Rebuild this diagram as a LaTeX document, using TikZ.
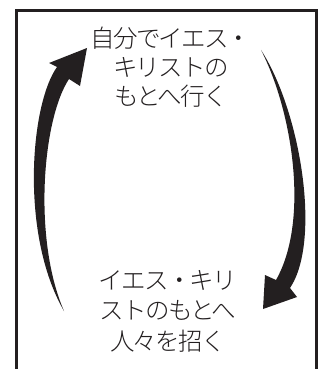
\documentclass[tikz,border=0pt]{standalone}
\usepackage{fontspec}
\newfontfamily\cjk[LetterSpace=-7]{Noto Sans CJK JP Light}
\definecolor{ink}{HTML}{231F20}
\begin{document}
\begin{tikzpicture}[x=1pt,y=-1pt,
  frame/.style={draw=ink,line width=3pt},
  label/.style={font=\cjk\fontsize{24.5}{29}\selectfont,text=ink,align=center,inner sep=0pt},
  label2/.style={font=\cjk\fontsize{24.5}{30.5}\selectfont,text=ink,align=center,inner sep=0pt},
  bigarrow/.style={fill=ink,draw=none}]
\useasboundingbox (0,0) rectangle (320,369);
\draw[frame] (16.5,369) -- (16.5,10.5) -- (316.5,10.5) -- (316.5,369);
\node[label] (top) at (171,67) {自分でイエス・\\キリストの\\もとへ行く};
\node[label2] (bot) at (168,311) {イエス・キリ\\ストのもとへ\\人々を招く};
% left arrow (upward)
\fill[bigarrow] (64,311) .. controls (33,240) and (42,120) .. (69,79)
  -- (80,86) -- (87,48) -- (49,63) -- (57,67)
  .. controls (30,105) and (20,235) .. (64,311) -- cycle;
% right arrow (downward)
\fill[bigarrow] (261,50) .. controls (300,110) and (322,240) .. (290,288)
  -- (297,297) -- (263,309) -- (265,275) -- (276,280)
  .. controls (310,220) and (292,110) .. (261,50) -- cycle;
\end{tikzpicture}
\end{document}
